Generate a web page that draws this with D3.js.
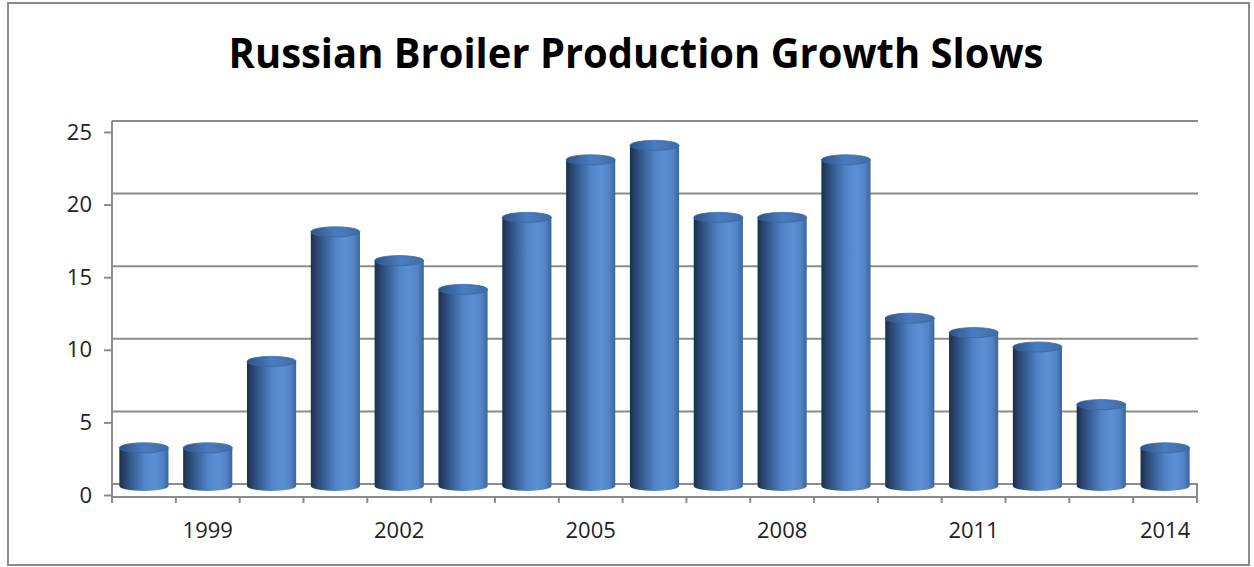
<!DOCTYPE html>
<html>
<head>
<meta charset="utf-8">
<script src="https://cdn.jsdelivr.net/npm/d3@7"></script>
<style>
  body { margin: 0; background: #fff; }
  svg { display: block; }
</style>
</head>
<body>
<svg id="chart"></svg>
<script>
// data
const years = ["1998","1999","2000","2001","2002","2003","2004","2005","2006","2007","2008","2009","2010","2011","2012","2013","2014"];
const growth = [3, 3, 9, 18, 16, 14, 19, 23, 24, 19, 19, 23, 12, 11, 10, 6, 3];
const yTicks = [0, 5, 10, 15, 20, 25];
const xLabels = ["1999","2002","2005","2008","2011","2014"];
const title = "Russian Broiler Production Growth Slows";

const W = 1254, H = 567;
const svg = d3.select('#chart').attr('width', W).attr('height', H);

// frame
svg.append('rect')
    .attr('x', 8).attr('y', 3)
    .attr('width', 1241).attr('height', 562)
    .attr('fill', 'none').attr('stroke', '#8c8c8c').attr('stroke-width', 2);

const t = svg.append('text')
    .attr('x', 0).attr('y', 0)
    .attr('text-anchor', 'middle')
    .style('font-family', '"Open Sans", sans-serif')
    .style('font-weight', 'bold')
    .style('font-size', '36px')
    .attr('fill', '#000')
    .text(title);
// fit to the width the title takes in the picture, then stretch up to its cap height
const tw = t.node().getComputedTextLength();
const fs = 36 * 815 / tw;
t.style('font-size', fs + 'px');
const sy = 29 / (fs * 0.714);
t.attr('transform', `translate(636,68) scale(1,${sy})`);

const left = 112, right = 1197;
const x = d3.scaleBand().domain(years).range([left, right]).paddingInner(0.23).paddingOuter(0.115);
const y = d3.scaleLinear().domain([0, 25]).range([495, 132]);
const depth = 11;          // back wall sits higher than the axis
const yb = d3.scaleLinear().domain([0, 25]).range([491, 131]);  // bars stand in the middle of the floor

const defs = svg.append('defs');
const g1 = defs.append('linearGradient').attr('id', 'cyl').attr('x1', 0).attr('x2', 1).attr('y1', 0).attr('y2', 0);
[[0, '#1b2f4c'], [0.18, '#2f5180'], [0.5, '#5084c6'], [0.7, '#5c90d5'], [0.88, '#5283c4'], [1, '#3a65a0']]
    .forEach(s => g1.append('stop').attr('offset', s[0]).attr('stop-color', s[1]));
const g2 = defs.append('linearGradient').attr('id', 'cap').attr('x1', 0).attr('x2', 1).attr('y1', 0).attr('y2', 0);
[[0, '#2e5283'], [0.5, '#4a7dbf'], [1, '#3f6ca8']]
    .forEach(s => g2.append('stop').attr('offset', s[0]).attr('stop-color', s[1]));

// back wall grid
svg.append('g').selectAll('line')
    .data(yTicks)
    .join('line')
    .attr('x1', left).attr('x2', right + 1)
    .attr('y1', d => y(d) - depth).attr('y2', d => y(d) - depth)
    .attr('stroke', '#8c8c8c').attr('stroke-width', 2);

// left wall edge and floor edges
svg.append('line').attr('x1', left).attr('x2', left).attr('y1', y(25) - depth).attr('y2', y(0) + 2)
    .attr('stroke', '#8c8c8c').attr('stroke-width', 2);
svg.append('line').attr('x1', right).attr('x2', right).attr('y1', y(0) - depth).attr('y2', y(0) + 8)
    .attr('stroke', '#8c8c8c').attr('stroke-width', 2);

const labelFont = '"Open Sans", sans-serif';

// y axis ticks + labels
const yAxis = d3.axisLeft(y).tickValues(yTicks).tickSize(8).tickPadding(12);
const ya = svg.append('g').attr('transform', `translate(${left},0)`).call(yAxis);
ya.select('.domain').remove();
ya.selectAll('line').attr('stroke', '#8c8c8c').attr('stroke-width', 2);
ya.selectAll('text').style('font-family', labelFont).style('font-size', '22px').attr('fill', '#222');

// x axis
svg.append('line').attr('x1', left).attr('x2', right).attr('y1', y(0) + 2).attr('y2', y(0) + 2)
    .attr('stroke', '#8c8c8c').attr('stroke-width', 2);
svg.append('g').selectAll('line')
    .data(years.concat(['end']))
    .join('line')
    .attr('x1', (d, i) => left + i * x.step()).attr('x2', (d, i) => left + i * x.step())
    .attr('y1', y(0) + 2).attr('y2', y(0) + 8)
    .attr('stroke', '#8c8c8c').attr('stroke-width', 2);
svg.append('g').selectAll('text')
    .data(xLabels)
    .join('text')
    .attr('x', d => x(d) + x.bandwidth() / 2)
    .attr('y', 538)
    .attr('text-anchor', 'middle')
    .style('font-family', labelFont).style('font-size', '22px')
    .attr('fill', '#222')
    .text(d => d);

// cylinders
const rx = x.bandwidth() / 2, ry = 5;
const bars = svg.append('g').selectAll('g')
    .data(years.map((d, i) => ({ year: d, value: growth[i] })))
    .join('g');
bars.append('path')
    .attr('d', d => {
        const x0 = x(d.year), x1 = x0 + x.bandwidth();
        const top = yb(d.value), bot = yb(0) - ry;
        return `M${x0},${top} L${x0},${bot} A${rx},${ry} 0 0 0 ${x1},${bot} L${x1},${top} Z`;
    })
    .attr('fill', 'url(#cyl)');
bars.append('ellipse')
    .attr('cx', d => x(d.year) + rx)
    .attr('cy', d => yb(d.value))
    .attr('rx', rx).attr('ry', ry)
    .attr('fill', 'url(#cap)')
    .attr('stroke', '#3b66a2').attr('stroke-width', 0.8);
</script>
</body>
</html>
